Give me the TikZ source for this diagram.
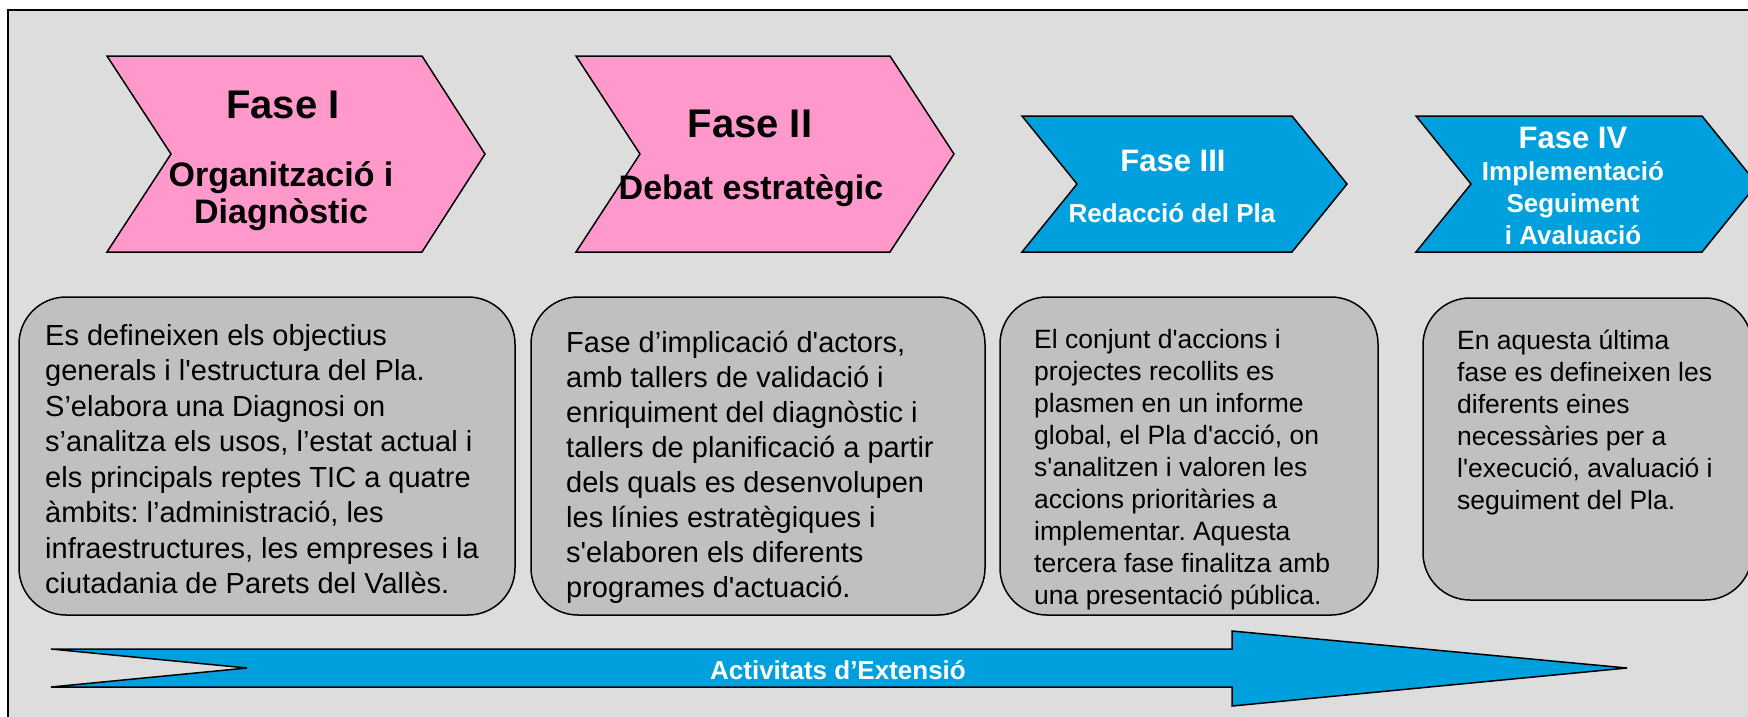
\documentclass[tikz,border=0pt]{standalone}
\usepackage{fontspec}
\setmainfont{Liberation Sans}
\frenchspacing
\definecolor{bgray}{RGB}{221,221,221}
\definecolor{pinkfill}{RGB}{255,153,204}
\definecolor{bluefill}{RGB}{0,160,223}
\definecolor{boxfill}{RGB}{192,192,192}
\newcommand\boxlines[6]{%
  \foreach \ln [count=\i] in {#6} {
    \node[#5, anchor=base west] (#1l\i) at (#2, {#3+(\i-1)*#4}) {\ln};
  }}
\begin{document}
\begin{tikzpicture}[x=1pt,y=-1pt,line join=miter,
  chev/.style={draw=black,line width=1.5pt},
  pinkchev/.style={chev,fill=pinkfill},
  bluechev/.style={chev,fill=bluefill},
  infobox/.style={draw=black,line width=1.5pt,fill=boxfill,rounded corners=47pt},
  hbig/.style={inner sep=0pt,anchor=base,font=\bfseries\fontsize{40}{48}\selectfont},
  hmid/.style={inner sep=0pt,anchor=base,font=\bfseries\fontsize{34}{40}\selectfont},
  hblue/.style={inner sep=0pt,anchor=base,text=white,font=\bfseries\fontsize{31}{37}\selectfont},
  hbluesub/.style={inner sep=0pt,anchor=base,text=white,font=\bfseries\fontsize{26}{32}\selectfont},
  btA/.style={inner sep=0pt,font=\frenchspacing\fontsize{29}{35}\selectfont},
  btB/.style={inner sep=0pt,font=\frenchspacing\fontsize{26.5}{32}\selectfont},
]
\clip (0,0) rectangle (1748,716);
\fill[white] (0,0) rectangle (1748,716);
\draw[fill=bgray,line width=2.5pt] (8,10) rectangle (1780,740);

% chevrons
\draw[pinkchev] (107,56) -- (422,56) -- (485,154) -- (422,252) -- (107,252) -- (171,154) -- cycle;
\draw[pinkchev] (576,56) -- (890,56) -- (954,154) -- (890,252) -- (576,252) -- (640,154) -- cycle;
\draw[bluechev] (1022,116) -- (1292,116) -- (1347,184) -- (1292,252) -- (1022,252) -- (1077,184) -- cycle;
\draw[bluechev] (1416,116) -- (1702,116) -- (1757,184) -- (1702,252) -- (1416,252) -- (1471,184) -- cycle;

\node[hbig] (f1a) at (283,118) {Fase I};
\node[hmid] (f1b) at (281,186) {Organització i};
\node[hmid] (f1c) at (281,223) {Diagnòstic};
\node[hbig] (f2a) at (750,137) {Fase II};
\node[hmid] (f2b) at (751,199) {Debat estratègic};
\node[hblue] (f3a) at (1173,171) {Fase III};
\node[hbluesub] (f3b) at (1172,222) {Redacció del Pla};
\node[hblue] (f4a) at (1573,148) {Fase IV};
\node[hbluesub] (f4b) at (1573,180) {Implementació};
\node[hbluesub] (f4c) at (1573,212) {Seguiment};
\node[hbluesub] (f4d) at (1573,244) {i Avaluació};

% boxes
\draw[infobox] (19,297) rectangle (515,615);
\draw[infobox] (531,297) rectangle (985,615);
\draw[infobox] (1000,297) rectangle (1378,615);
\draw[infobox] (1423,298) rectangle (1752,600);

\boxlines{b1}{45}{345}{35.5}{btA}{Es defineixen els objectius,{generals i l\textquotesingle estructura del Pla.},S’elabora una Diagnosi on,{s’analitza els usos, l’estat actual i},els principals reptes TIC a quatre,{àmbits: l’administració, les},{infraestructures, les empreses i la},ciutadania de Parets del Vallès.}
\boxlines{b2}{566}{352}{35}{btA}{{Fase d’implicació d\textquotesingle actors,},amb tallers de validació i,enriquiment del diagnòstic i,tallers de planificació a partir,dels quals es desenvolupen,les línies estratègiques i,s\textquotesingle elaboren els diferents,programes d\textquotesingle actuació.}
\boxlines{b3}{1034}{348}{32.1}{btB}{El conjunt d\textquotesingle accions i,projectes recollits es,plasmen en un informe,{global, el Pla d\textquotesingle acció, on},s\textquotesingle analitzen i valoren les,accions prioritàries a,implementar. Aquesta,tercera fase finalitza amb,una presentació pública.}
\boxlines{b4}{1457}{349}{32}{btB}{En aquesta última,fase es defineixen les,diferents eines,necessàries per a,{l\textquotesingle execució, avaluació i},seguiment del Pla.}

% extension arrow
\draw[chev,fill=bluefill] (51,649) -- (1232,649) -- (1232,631) -- (1627,668) -- (1232,706) -- (1232,687) -- (51,687) -- (247,668) -- cycle;
\node[hbluesub] (ext) at (838,679) {Activitats d’Extensió};
\end{tikzpicture}
\end{document}
